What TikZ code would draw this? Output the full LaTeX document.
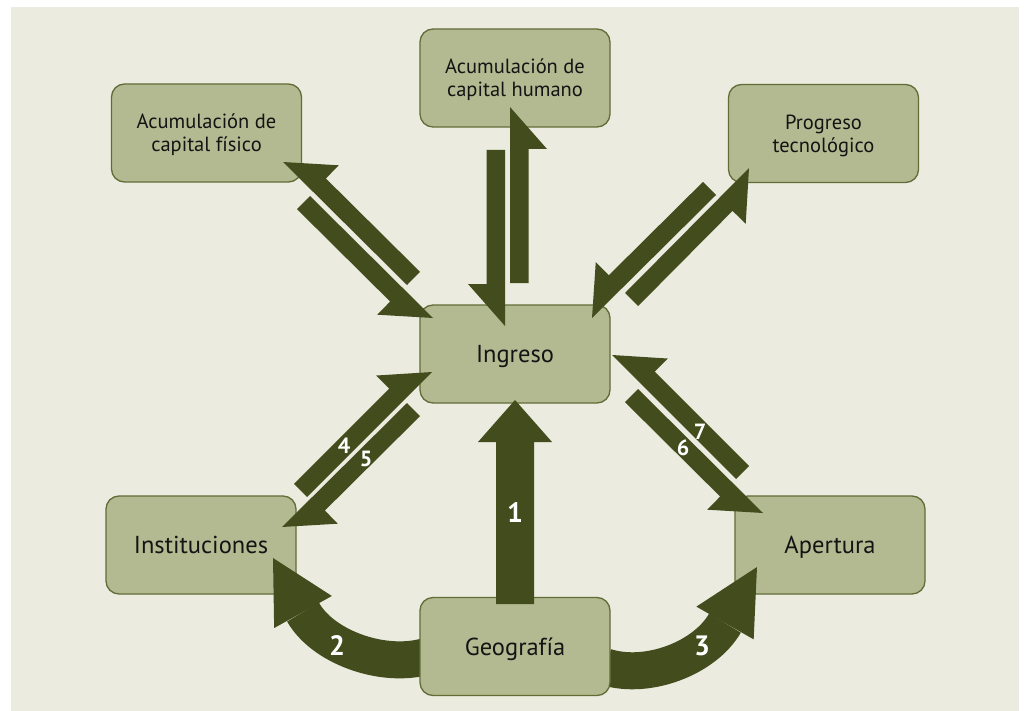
\documentclass[tikz,border=0pt]{standalone}
\usepackage{fontspec}
\setmainfont{PT Sans}
\usetikzlibrary{calc}
\definecolor{bgc}{RGB}{235,235,223}
\definecolor{boxc}{RGB}{179,186,145}
\definecolor{boxl}{RGB}{98,108,55}
\definecolor{arrc}{RGB}{67,76,29}
\definecolor{txtc}{RGB}{20,20,20}
\tikzset{
  box/.style={draw=boxl, line width=1.3pt, fill=boxc, rounded corners=13pt,
    minimum width=190pt, minimum height=98pt, inner sep=0pt, text=txtc,
    align=center, font=\fontsize{20.5}{23}\selectfont, text depth=0pt},
  bigbox/.style={box, font=\fontsize{24.5}{28}\selectfont, text height=17pt, text depth=0pt},
  num/.style={text=white, font=\bfseries\fontsize{28}{28}\selectfont, inner sep=0pt},
  smallnum/.style={num, font=\bfseries\fontsize{22}{22}\selectfont},
  arrowfill/.style={fill=arrc},
  bandline/.style={draw=arrc, line width=37pt},
}
\newcommand\harp[3]{%
  \coordinate (hb) at ($(#2)!42pt!(#1)$);
  \fill[arrowfill] (#1) -- (#2) -- ($(hb)!37pt!#3:(#2)$) -- ($(hb)!18.5pt!#3:(#2)$)
    -- ($(#1)!18.5pt!#3:(#2)$) -- cycle;
}
\begin{document}
\begin{tikzpicture}[x=1pt,y=-1pt]
\useasboundingbox (0,0) rectangle (1024,711);
\fill[bgc] (11,7) rectangle (1019,711);

% boxes
\node[box] (fis) at (206.5,133) {Acumulación de\\capital físico};
\node[box] (hum) at (515,78) {Acumulación de\\capital humano};
\node[box] (pro) at (823.5,133.5) {Progreso\\tecnológico};
\node[bigbox] (ing) at (515,354) {Ingreso};
\node[bigbox] (ins) at (201,545) {Instituciones};
\node[bigbox] (ape) at (830,545) {Apertura};

% harpoon pairs
\coordinate (p1s) at (407,285); \coordinate (p1t) at (283,162);
\coordinate (p2s) at (310,196); \coordinate (p2t) at (433,318);
\coordinate (p3s) at (505,150); \coordinate (p3t) at (505,326);
\coordinate (p4s) at (510,283); \coordinate (p4t) at (510,107);
\coordinate (p5s) at (625,293); \coordinate (p5t) at (749,168);
\coordinate (p6s) at (716,195); \coordinate (p6t) at (592,318);
\coordinate (p7s) at (307,497); \coordinate (p7t) at (432,372);
\coordinate (p8s) at (407,403); \coordinate (p8t) at (282,527);
\coordinate (p9s) at (736,479); \coordinate (p9t) at (612,355);
\coordinate (p10s) at (638,389); \coordinate (p10t) at (763,513);
\harp{p1s}{p1t}{-90}
\harp{p2s}{p2t}{-90}
\harp{p3s}{p3t}{-90}
\harp{p4s}{p4t}{-90}
\harp{p5s}{p5t}{-90}
\harp{p6s}{p6t}{-90}
\harp{p7s}{p7t}{90}
\harp{p8s}{p8t}{90}
\harp{p9s}{p9t}{-90}
\harp{p10s}{p10t}{-90}

% curved arrows 2 and 3
\coordinate (c2s) at (424,657); \coordinate (c2b) at (303,612); \coordinate (c2t) at (273,558);
\draw[bandline] (c2s) .. controls (380,668) and (322,646) .. (c2b);
\fill[arrowfill] (c2t) -- ($(c2b)!33pt!90:(c2t)$) -- ($(c2b)!33pt!-90:(c2t)$) -- cycle;
\coordinate (c3s) at (606,667); \coordinate (c3b) at (725,623); \coordinate (c3t) at (757,567);
\draw[bandline] (c3s) .. controls (648,680) and (705,658) .. (c3b);
\fill[arrowfill] (c3t) -- ($(c3b)!33pt!90:(c3t)$) -- ($(c3b)!33pt!-90:(c3t)$) -- cycle;

\node[bigbox] (geo) at (515,646.5) {Geografía};

% arrow 1
\coordinate (a1s) at (515,604); \coordinate (a1t) at (515,400);
\fill[arrowfill] ($(a1s)+(-19,0)$) -- ($(a1s)+(19,0)$) -- ($(a1t)+(19,42)$) -- ($(a1t)+(37,42)$)
  -- (a1t) -- ($(a1t)+(-37,42)$) -- ($(a1t)+(-19,42)$) -- cycle;

% labels
\node[num] (n1) at (515,513) {1};
\node[num] (n2) at (337,645) {2};
\node[num] (n3) at (702,646) {3};
\node[smallnum] (n4) at (344,446) {4};
\node[smallnum] (n5) at (366,459) {5};
\node[smallnum] (n6) at (683,448) {6};
\node[smallnum] (n7) at (700,432) {7};
\end{tikzpicture}
\end{document}
